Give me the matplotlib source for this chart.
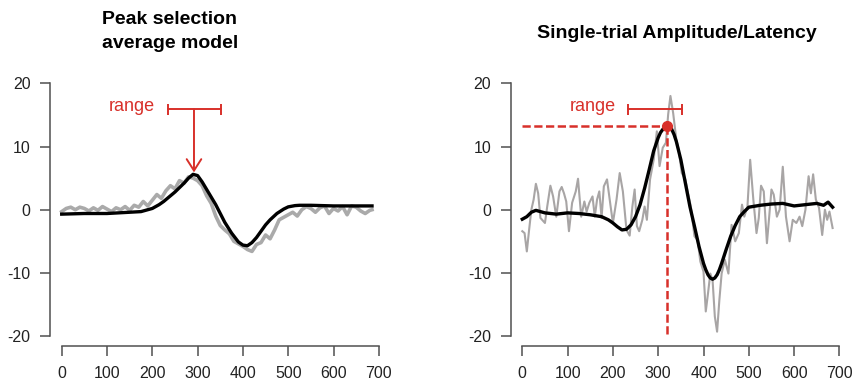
import numpy as np
import matplotlib.pyplot as plt

plt.rcParams['font.family'] = ['Liberation Sans', 'DejaVu Sans']
plt.rcParams['axes.unicode_minus'] = False

red = '#d8302a'
grey = '#a8a5a5'
axcol = '#505050'

# left panel: average model (black) and average ERP (grey)
avg_fit_t = [0, 50, 100, 150, 175, 200, 215, 225, 240, 250, 260, 270, 280, 290, 300,
             310, 325, 340, 350, 360, 375, 390, 400, 410, 420, 430, 440, 450, 460, 475,
             490, 500, 515, 525, 550, 600, 650, 685]
avg_fit_v = [-0.7, -0.6, -0.6, -0.4, -0.3, 0.2, 0.8, 1.3, 2.2, 2.8, 3.5, 4.2, 5.0, 5.6,
             5.4, 4.4, 2.6, 0.8, -0.6, -2.0, -3.7, -5.1, -5.6, -5.7, -5.2, -4.4, -3.4,
             -2.4, -1.6, -0.6, 0.1, 0.45, 0.65, 0.7, 0.7, 0.6, 0.6, 0.6]

avg_erp_t = [0, 10, 20, 30, 40, 50, 60, 70, 80, 90, 100, 110, 120, 130, 140, 150, 160,
             170, 180, 190, 200, 210, 220, 230, 240, 250, 260, 270, 280, 290, 300, 310,
             320, 330, 340, 350, 360, 370, 380, 390, 400, 410, 420, 430, 440, 450, 460,
             470, 480, 490, 500, 510, 520, 530, 540, 550, 560, 570, 580, 590, 600, 610,
             620, 630, 640, 650, 660, 670, 680, 685]
avg_erp_v = [-0.3, 0.2, 0.4, 0.0, 0.4, 0.2, -0.2, 0.3, -0.1, 0.5, 0.1, -0.3, 0.3, 0.0,
             0.5, -0.1, 0.7, 0.4, 1.3, 0.6, 1.5, 2.4, 1.8, 3.0, 3.8, 3.3, 4.6, 4.2, 5.2,
             5.0, 4.6, 3.8, 2.2, 1.0, -1.0, -2.5, -3.2, -3.8, -5.0, -5.4, -5.8, -6.3, -6.6,
             -5.5, -5.2, -4.0, -4.6, -3.2, -1.6, -1.2, -0.8, -0.4, -1.0, 0.0, 0.5, 0.2,
             -0.4, 0.3, 0.6, -0.6, 0.2, -0.2, 0.5, -0.8, 0.6, 0.4, -0.2, -0.6, -0.1, 0.0]

# right panel: single-trial model (black) and single trial (grey)
st_fit_t = [0, 10, 20, 30, 40, 50, 75, 100, 125, 150, 175, 190, 200, 210, 220, 230, 240,
            250, 260, 270, 280, 290, 300, 305, 310, 315, 320, 325, 330, 335, 340, 350,
            360, 370, 380, 390, 400, 405, 410, 415, 420, 425, 430, 435, 440, 450, 460,
            470, 480, 490, 500, 525, 550, 575, 600, 625, 650, 665, 675, 685]
st_fit_v = [-1.5, -1.1, -0.4, -0.1, -0.3, -0.5, -0.7, -0.5, -0.6, -0.8, -1.1, -1.6, -2.1,
            -2.7, -3.2, -3.1, -2.4, -1.1, 0.8, 3.4, 6.3, 9.3, 11.4, 12.2, 12.7, 13.1,
            13.2, 13.1, 12.7, 11.9, 10.8, 7.9, 4.2, 0.5, -2.6, -5.8, -8.5, -9.5, -10.3,
            -10.8, -11.0, -10.8, -10.3, -9.5, -8.5, -6.3, -4.2, -2.5, -1.1, -0.3, 0.4,
            0.7, 0.9, 1.0, 0.6, 0.8, 1.0, 0.7, 1.2, 0.4]

st_raw_t = [0, 5, 10, 15, 20, 25, 30, 35, 40, 50, 55, 62, 68, 75, 82, 87, 92, 97, 103,
            110, 118, 123, 130, 137, 142, 148, 155, 160, 165, 170, 175, 180, 187, 195,
            200, 208, 215, 222, 230, 237, 243, 248, 253, 258, 265, 270, 275, 282, 290,
            297, 303, 310, 317, 322, 327, 333, 340, 345, 352, 360, 365, 372, 380, 387,
            393, 400, 405, 410, 415, 420, 425, 430, 435, 440, 447, 455, 462, 470, 478,
            485, 490, 497, 503, 510, 517, 522, 527, 533, 540, 545, 550, 555, 562, 568,
            575, 582, 590, 597, 605, 612, 618, 625, 632, 637, 642, 648, 655, 662, 668,
            673, 678, 685]
st_raw_v = [-3.4, -3.7, -6.6, -3.2, 0.0, 1.6, 4.1, 2.6, -1.3, -2.1, 0.5, 3.8, 2.1, -1.1,
            2.9, 3.6, 2.6, 1.3, -3.4, 1.1, 2.9, 4.9, -1.1, 1.3, -0.3, 1.1, 2.1, -1.1, 1.6,
            2.9, -1.3, 3.7, 4.8, 0.5, -2.1, 1.6, 5.8, 2.9, -3.2, -4.1, 0.5, 3.2, -2.6,
            -3.4, -1.6, 0.5, -1.6, 4.8, 7.9, 12.4, 6.9, 9.8, 10.6, 15.1, 18.0, 15.3, 11.1,
            9.5, 5.8, 4.8, 2.9, 0.5, -4.2, -4.8, -8.2, -9.8, -16.1, -13.2, -10.1, -11.1,
            -16.9, -19.3, -14.3, -10.1, -7.9, -10.1, -2.4, -5.0, -3.7, 0.8, -1.1, 0.5, 7.9,
            1.6, -3.7, -1.3, 3.8, 2.9, -5.3, -1.1, 3.2, 2.4, -1.1, 0.0, 6.8, -1.1, -5.0,
            -1.6, -2.1, -1.1, -2.6, 0.0, 5.3, 2.6, 5.6, 1.6, 0.3, -4.0, 0.0, -1.6, -0.3,
            -2.9]

range_avg = [234, 352]
range_st = [234, 353]
range_y = 15.9
peak_avg = (292, 5.9)
peak_st = (320, 13.2)

fig = plt.figure(figsize=(8.52, 3.87), dpi=100)
ax1 = fig.add_axes([0.0586, 0.1054, 0.394, 0.7054])
ax2 = fig.add_axes([0.5992, 0.1054, 0.394, 0.7054])

for ax in (ax1, ax2):
    ax.set_xlim(-26, 715)
    ax.set_ylim(-21.6, 21.6)
    ax.spines['top'].set_visible(False)
    ax.spines['right'].set_visible(False)
    ax.spines['left'].set_bounds(-20, 20)
    ax.spines['bottom'].set_bounds(0, 700)
    for s in ('left', 'bottom'):
        ax.spines[s].set_color(axcol)
        ax.spines[s].set_linewidth(1.1)
    ax.set_xticks(range(0, 701, 100))
    ax.set_yticks([-20, -10, 0, 10, 20])
    ax.tick_params(direction='out', length=7, width=1.1, color=axcol,
                   labelsize=11.5, labelcolor='#222222', pad=7)

# left panel
ax1.plot(avg_erp_t, avg_erp_v, color='#aaaaaa', lw=2.6)
ax1.plot(avg_fit_t, avg_fit_v, color='black', lw=2.4)
ax1.plot(range_avg, [range_y, range_y], color=red, lw=1.4)
ax1.vlines(range_avg, range_y - 0.9, range_y + 0.9, color=red, lw=1.4)
ax1.annotate('', xy=peak_avg, xytext=(peak_avg[0], range_y),
             arrowprops=dict(arrowstyle='->,head_length=0.55,head_width=0.35',
                             color=red, lw=1.4, mutation_scale=15, shrinkA=0, shrinkB=0))
ax1.text(155, 16.3, 'range', color=red, fontsize=13, ha='center', va='center')

# right panel
ax2.plot(st_raw_t, st_raw_v, color=grey, lw=1.5)
ax2.plot(st_fit_t, st_fit_v, color='black', lw=2.4)
ax2.plot(range_st, [range_y, range_y], color=red, lw=1.4)
ax2.vlines(range_st, range_y - 0.9, range_y + 0.9, color=red, lw=1.4)
ax2.plot([0, peak_st[0]], [peak_st[1], peak_st[1]], color=red, lw=1.8,
         dashes=(3.3, 1.4))
ax2.plot([peak_st[0], peak_st[0]], [peak_st[1], -20], color=red, lw=1.8,
         dashes=(3.3, 1.4))
ax2.plot(*peak_st, 'o', color=red, ms=7)
ax2.text(156, 16.4, 'range', color=red, fontsize=13, ha='center', va='center')

fig.text(170 / 852, 1 - 20 / 387, 'Peak selection', fontsize=14, fontweight='bold',
         ha='center', va='center')
fig.text(170 / 852, 1 - 43 / 387, 'average model', fontsize=14, fontweight='bold',
         ha='center', va='center')
fig.text(677 / 852, 1 - 33 / 387, 'Single-trial Amplitude/Latency', fontsize=14,
         fontweight='bold', ha='center', va='center')

fig.savefig('out.png', dpi=100)
